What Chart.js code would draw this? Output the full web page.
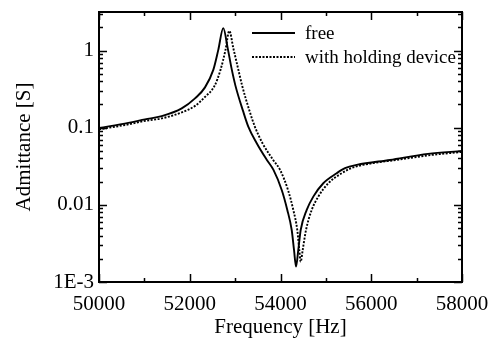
<!DOCTYPE html>
<html>
<head>
<meta charset="utf-8">
<script src="https://cdn.jsdelivr.net/npm/chart.js@4.4.1/dist/chart.umd.min.js"></script>
<style>
  html, body { margin: 0; padding: 0; background: #fff; }
  #wrap { width: 490px; height: 342px; }
</style>
</head>
<body>
<div id="wrap"><canvas id="grafico"></canvas></div>
<script>
// free resonator
const freqFree = [50000, 50646, 51014, 51382, 51823, 52116, 52336, 52519, 52629, 52739, 52836, 52920,
    53008, 53174, 53290, 53476, 53700, 53845, 54027, 54150, 54247, 54298, 54342, 54392,
    54445, 54578, 54723, 54943, 55239, 55422, 55680, 56413, 57251, 58000];
const admFree = [0.099, 0.1154, 0.1281, 0.1414, 0.1779, 0.2399, 0.3332, 0.562, 1.021, 1.952, 1.074, 0.591,
    0.3485, 0.1651, 0.1034, 0.063, 0.0382, 0.0284, 0.0156, 0.00859, 0.00472, 0.0026, 0.00158, 0.0026,
    0.00472, 0.00859, 0.01278, 0.01906, 0.0257, 0.02983, 0.03292, 0.0382, 0.04572, 0.05002];

// with holding device
const freqHold = [50000, 50646, 51014, 51382, 51823, 52116, 52336, 52546, 52678, 52788, 52872, 52960,
    53063, 53156, 53317, 53434, 53603, 53838, 53990, 54165, 54282, 54370, 54414, 54445,
    54489, 54562, 54688, 54833, 55054, 55349, 55554, 55818, 56546, 57339, 58000];
const admHold = [0.0951, 0.1104, 0.1225, 0.132, 0.1579, 0.1917, 0.2508, 0.3485, 0.562, 1.021, 1.801, 1.074,
    0.591, 0.3485, 0.1651, 0.1034, 0.063, 0.0382, 0.0284, 0.0156, 0.00859, 0.00472, 0.0026, 0.00183,
    0.0026, 0.00472, 0.00859, 0.01278, 0.01906, 0.0257, 0.02983, 0.03292, 0.0382, 0.04437, 0.04855];

const seriesNames = ['free', 'with holding device'];
const xTicks = [50000, 52000, 54000, 56000, 58000];
const xMinorTicks = [51000, 53000, 55000, 57000];
const yTickValues = [0.001, 0.01, 0.1, 1];
const yTickLabels = ['1E-3', '0.01', '0.1', '1'];

const fuente = "'Liberation Serif', 'Times New Roman', serif";

function puntos(xs, ys) {
    return xs.map((x, i) => ({ x: x, y: ys[i] }));
}

// ticks hacia adentro en los cuatro lados + marco + leyenda
const marcoPlugin = {
    id: 'marco',
    afterDatasetsDraw(chart) {
        const ctx = chart.ctx;
        const a = chart.chartArea;
        const sx = chart.scales.x;
        const sy = chart.scales.y;
        ctx.save();
        ctx.strokeStyle = '#000';
        ctx.lineWidth = 1.5;
        ctx.beginPath();
        xTicks.forEach(v => {
            const px = Math.round(sx.getPixelForValue(v)) + 0.5;
            ctx.moveTo(px, a.bottom); ctx.lineTo(px, a.bottom - 8);
            ctx.moveTo(px, a.top); ctx.lineTo(px, a.top + 8);
        });
        xMinorTicks.forEach(v => {
            const px = Math.round(sx.getPixelForValue(v)) + 0.5;
            ctx.moveTo(px, a.bottom); ctx.lineTo(px, a.bottom - 4);
            ctx.moveTo(px, a.top); ctx.lineTo(px, a.top + 4);
        });
        yTickValues.forEach(dec => {
            const py = Math.round(sy.getPixelForValue(dec)) + 0.5;
            ctx.moveTo(a.left, py); ctx.lineTo(a.left + 8, py);
            ctx.moveTo(a.right, py); ctx.lineTo(a.right - 8, py);
            for (let k = 2; k <= 9; k++) {
                const v = dec * k;
                if (v > sy.max) break;
                const pm = Math.round(sy.getPixelForValue(v)) + 0.5;
                ctx.moveTo(a.left, pm); ctx.lineTo(a.left + 4, pm);
                ctx.moveTo(a.right, pm); ctx.lineTo(a.right - 4, pm);
            }
        });
        ctx.stroke();
        ctx.lineWidth = 2;
        ctx.strokeRect(a.left, a.top, a.right - a.left, a.bottom - a.top);

        // leyenda
        ctx.font = '19px ' + fuente;
        ctx.fillStyle = '#000';
        ctx.textBaseline = 'middle';
        chart.data.datasets.forEach((ds, i) => {
            const y = a.top + 21 + i * 24;
            ctx.beginPath();
            ctx.lineWidth = ds.borderWidth;
            ctx.setLineDash(ds.borderDash || []);
            ctx.moveTo(a.right - 210, y);
            ctx.lineTo(a.right - 167, y);
            ctx.stroke();
            ctx.setLineDash([]);
            ctx.fillText(ds.label, a.right - 157, y + 1);
        });
        ctx.restore();
    }
};

const ctx = document.getElementById('grafico').getContext('2d');

new Chart(ctx, {
    type: 'line',
    data: {
        datasets: [{
            label: seriesNames[0],
            data: puntos(freqFree, admFree),
            borderColor: '#000',
            borderWidth: 1.9,
            pointRadius: 0,
            cubicInterpolationMode: 'monotone'
        }, {
            label: seriesNames[1],
            data: puntos(freqHold, admHold),
            borderColor: '#000',
            borderWidth: 1.9,
            borderDash: [2, 1.5],
            pointRadius: 0,
            cubicInterpolationMode: 'monotone'
        }]
    },
    options: {
        responsive: true,
        maintainAspectRatio: false,
        animation: false,
        layout: { padding: { top: 12, right: 28, left: 0, bottom: 0 } },
        plugins: {
            legend: { display: false },
            tooltip: { enabled: false }
        },
        scales: {
            x: {
                type: 'linear',
                min: 50000,
                max: 58000,
                afterFit: scale => {
                    scale.height = 60;
                    scale.paddingLeft = 0;
                    scale.paddingRight = 0;
                },
                afterBuildTicks: scale => { scale.ticks = xTicks.map(v => ({ value: v })); },
                grid: { display: false, drawTicks: false },
                border: { display: false },
                ticks: {
                    autoSkip: false,
                    maxRotation: 0,
                    padding: 10,
                    color: '#000',
                    font: { family: fuente, size: 21 },
                    callback: v => String(v)
                },
                title: {
                    display: true,
                    text: 'Frequency [Hz]',
                    color: '#000',
                    font: { family: fuente, size: 21 },
                    padding: { top: 0, bottom: 2 }
                }
            },
            y: {
                type: 'logarithmic',
                min: 0.001,
                max: 3.16,
                afterFit: scale => {
                    scale.width = 99;
                    scale.paddingTop = 0;
                    scale.paddingBottom = 0;
                },
                afterBuildTicks: scale => { scale.ticks = yTickValues.map(v => ({ value: v })); },
                grid: { display: false, drawTicks: false },
                border: { display: false },
                ticks: {
                    autoSkip: false,
                    padding: 5,
                    color: '#000',
                    font: { family: fuente, size: 21 },
                    callback: (v, i) => yTickLabels[i]
                },
                title: {
                    display: true,
                    text: 'Admittance [S]',
                    color: '#000',
                    font: { family: fuente, size: 21 },
                    padding: { top: 12, bottom: 0 }
                }
            }
        }
    },
    plugins: [marcoPlugin]
});
</script>
</body>
</html>
